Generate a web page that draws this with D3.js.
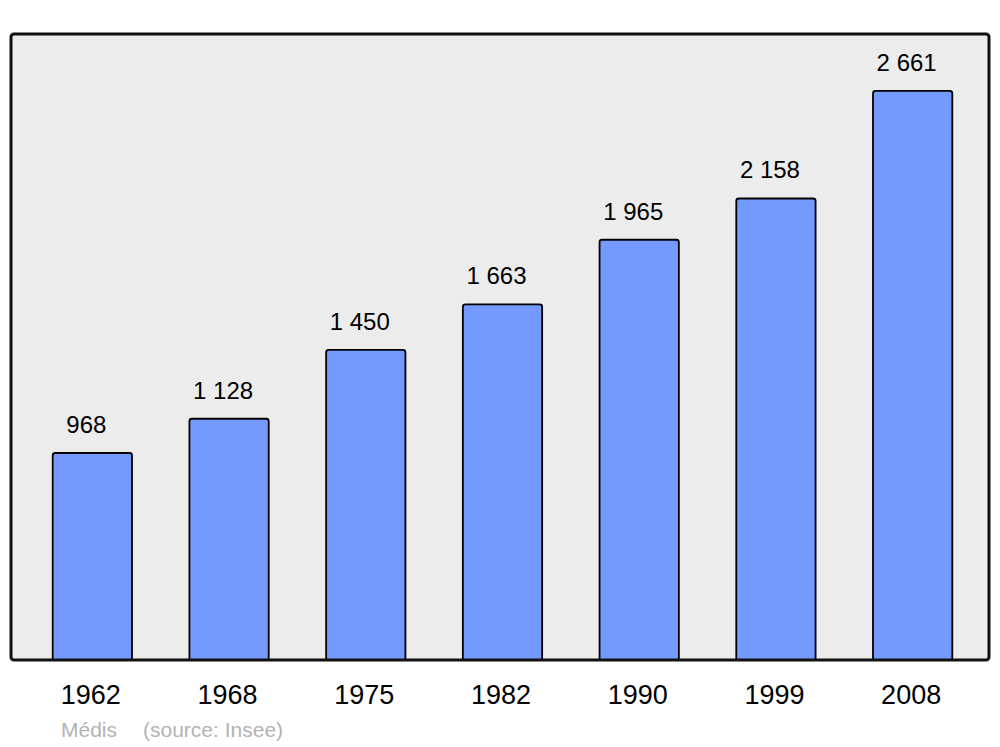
<!DOCTYPE html>
<html><head><meta charset="utf-8">
<script src="https://cdn.jsdelivr.net/npm/d3@7"></script>
<style>body{margin:0;background:#fff}svg{display:block}</style>
</head><body>
<script>
const years = ["1962","1968","1975","1982","1990","1999","2008"];
const population = [968,1128,1450,1663,1965,2158,2661];
const valueLabels = ["968","1 128","1 450","1 663","1 965","2 158","2 661"];
const footerAuthor = "Médis";
const footerSource = "(source: Insee)";

const W=1000,H=747;
const svg=d3.select("body").append("svg").attr("width",W).attr("height",H);
const font="'Liberation Sans', Arial, sans-serif";
const panel={x:11,y:34,w:978,h:626};

svg.append("defs").append("clipPath").attr("id","pclip").append("rect")
  .attr("x",panel.x).attr("y",panel.y).attr("width",panel.w).attr("height",panel.h);

svg.append("rect").attr("x",panel.x).attr("y",panel.y).attr("width",panel.w).attr("height",panel.h)
  .attr("rx",3).attr("fill","#ececec");

const x=d3.scaleBand().domain(years).range([24,981]).paddingInner(0.42).paddingOuter(0.21);
const y=d3.scaleLinear().domain([0,2661*1.1]).range([panel.y+panel.h,panel.y]);

svg.append("g").attr("clip-path","url(#pclip)")
  .selectAll("rect.bar").data(years).enter().append("rect").attr("class","bar")
  .attr("x",d=>x(d)).attr("width",x.bandwidth())
  .attr("y",(d,i)=>y(population[i])).attr("height",(d,i)=>y(0)-y(population[i])+4)
  .attr("rx",2.5).attr("fill","#7499ff").attr("stroke","#000").attr("stroke-width",1.8);

svg.append("rect").attr("x",panel.x).attr("y",panel.y).attr("width",panel.w).attr("height",panel.h)
  .attr("rx",3).attr("fill","none").attr("stroke","#111").attr("stroke-width",3);

svg.selectAll("text.val").data(years).enter().append("text").attr("class","val")
  .attr("x",d=>x(d)+x.bandwidth()/2-6).attr("y",(d,i)=>y(population[i])-20)
  .attr("text-anchor","middle").attr("font-family",font).attr("font-size",24).attr("fill","#000")
  .text((d,i)=>valueLabels[i]);

const xAxis=svg.append("g").attr("transform",`translate(0,${panel.y+panel.h})`)
  .call(d3.axisBottom(x).tickSize(0).tickPadding(0));
xAxis.select(".domain").remove();
xAxis.selectAll("text").attr("x",-1.5).attr("y",44).attr("dy",0).attr("font-family",font).attr("font-size",27).attr("fill","#000");

svg.append("text").attr("x",61).attr("y",737).attr("font-family",font).attr("font-size",21).attr("fill","#b3b3b3").text(footerAuthor);
svg.append("text").attr("x",143).attr("y",737).attr("font-family",font).attr("font-size",21).attr("fill","#b3b3b3").text(footerSource);
</script>
</body></html>
